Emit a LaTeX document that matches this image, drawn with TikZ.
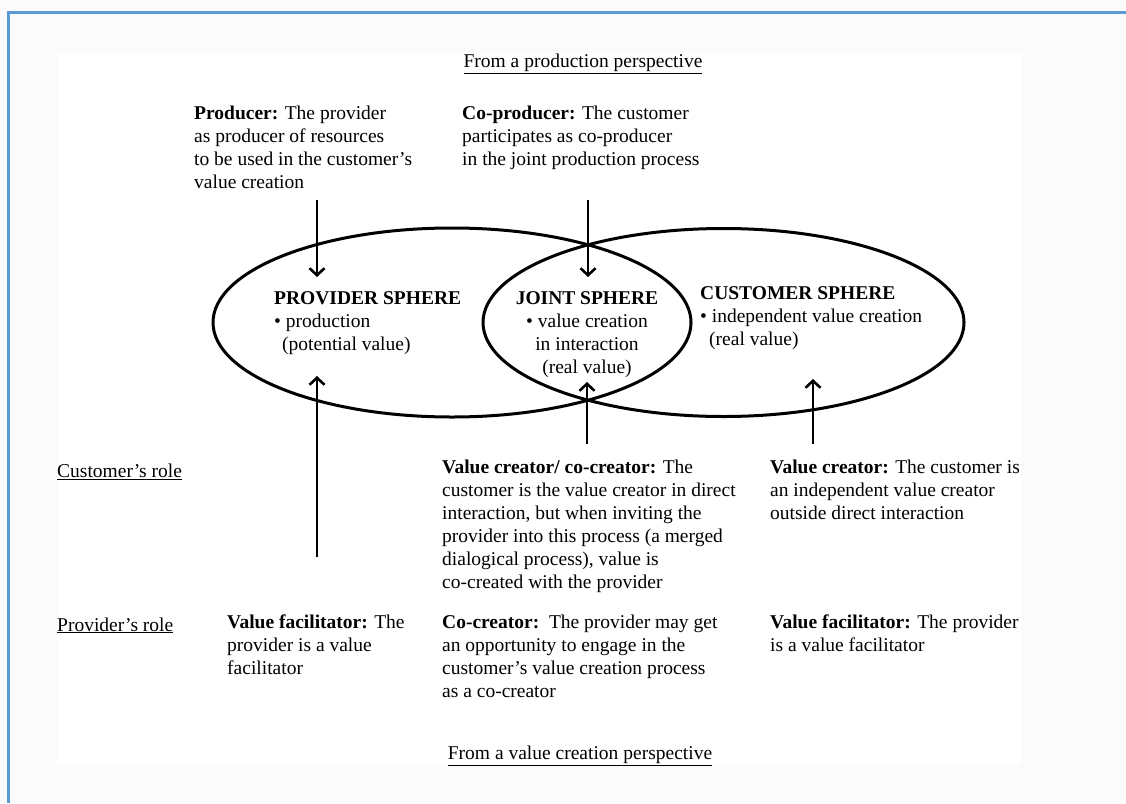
\documentclass[tikz,border=0pt]{standalone}
\usepackage{fontspec}
\setmainfont{Liberation Serif}
\usetikzlibrary{arrows.meta,shapes.geometric}

\definecolor{framebl}{RGB}{91,155,213}
\definecolor{pagegray}{RGB}{251,251,251}

\tikzset{
  txt/.style={font=\fontsize{19.5}{23}\selectfont, inner sep=0pt, align=left, anchor=north west},
  label/.style={font=\fontsize{19.5}{23}\selectfont, inner sep=0pt, anchor=base west},
  sphere/.style={draw, ellipse, line width=3pt, inner sep=0pt},
  flow/.style={-{Straight Barb[length=7pt,width=15pt,line width=2.6pt]}, line width=2.4pt}
}

\begin{document}
\begin{tikzpicture}[x=1pt, y=-1pt]
  \useasboundingbox (0,0) rectangle (1126,803);
  % Page and frame
  \fill[pagegray] (0,0) rectangle (1126,803);
  \fill[white] (57,53) rectangle (1021,765);
  \draw[framebl, line width=3pt] (8,803) -- (8,12) -- (1126,12);

  % Spheres
  \node[sphere, minimum width=478pt, minimum height=189pt] (provider) at (452,322.5) {};
  \node[sphere, minimum width=481pt, minimum height=188pt] (customer) at (723.5,322.5) {};

  \node[txt] (provtxt) at (274,291.5) {\textbf{PROVIDER SPHERE}\\\textbullet\ production\\\hspace{8pt}(potential value)};
  \node[txt, align=center, anchor=north] (jointtxt) at (587,291.5) {\textbf{JOINT SPHERE}\\\textbullet\ value creation\\in interaction\\(real value)};
  \node[txt] (custtxt) at (700,286.5) {\textbf{CUSTOMER SPHERE}\\\textbullet\ independent value creation\\\hspace{9pt}(real value)};

  % Production perspective
  \node[label, anchor=base] (prodpersp) at (583,67.5) {\underline{From a production perspective}};
  \node[txt] (producer) at (194,106) {\textbf{Producer:} The provider\\as producer of resources\\to be used in the customer’s\\value creation};
  \node[txt] (coproducer) at (462,106) {\textbf{Co-producer:} The customer\\participates as co-producer\\in the joint production process};

  % Customer's role
  \node[label] (custrole) at (57,477.5) {\underline{Customer’s role}};
  \node[txt] (cocreator) at (442,460) {\textbf{Value creator/ co-creator:} The\\customer is the value creator in direct\\interaction, but when inviting the\\provider into this process (a merged\\dialogical process), value is\\co-created with the provider};
  \node[txt] (creator) at (770,460) {\textbf{Value creator:} The customer is\\an independent value creator\\outside direct interaction};

  % Provider's role
  \node[label] (provrole) at (57,631) {\underline{Provider’s role}};
  \node[txt] (facil) at (227,615) {\textbf{Value facilitator:} The\\provider is a value\\facilitator};
  \node[txt] (cocreat) at (442,615) {\textbf{Co-creator:}\ \ The provider may get\\an opportunity to engage in the\\customer’s value creation process\\as a co-creator};
  \node[txt] (facilr) at (770,615) {\textbf{Value facilitator:} The provider\\is a value facilitator};

  \node[label, anchor=base] (valpersp) at (580,759.5) {\underline{From a value creation perspective}};

  % Arrows
  \coordinate (prodfrom) at (317,200);
  \coordinate (prodto) at (317,277);
  \coordinate (coprodfrom) at (588,200);
  \coordinate (coprodto) at (588,277);
  \coordinate (facilfrom) at (317,557);
  \coordinate (facilto) at (317,376);
  \coordinate (jointfrom) at (587,444);
  \coordinate (jointto) at (587,382);
  \coordinate (custfrom) at (813,444);
  \coordinate (custto) at (813,379);
  \draw[flow] (prodfrom) -- (prodto);
  \draw[flow] (coprodfrom) -- (coprodto);
  \draw[flow] (facilfrom) -- (facilto);
  \draw[flow] (jointfrom) -- (jointto);
  \draw[flow] (custfrom) -- (custto);
\end{tikzpicture}
\end{document}
